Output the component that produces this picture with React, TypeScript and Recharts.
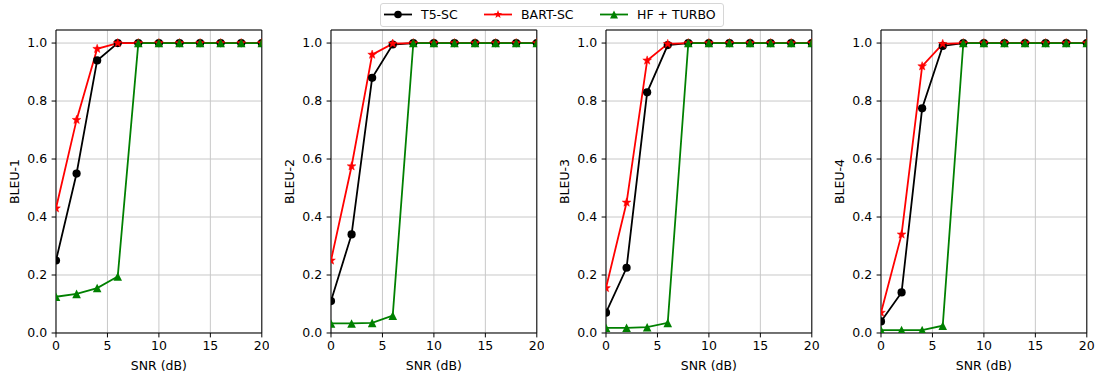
import { CartesianGrid, Line, LineChart, ReferenceArea, XAxis, YAxis } from "recharts";

const snr = [0, 2, 4, 6, 8, 10, 12, 14, 16, 18, 20];
const xTicks = [0, 5, 10, 15, 20];
const yTicks = [0, 0.2, 0.4, 0.6, 0.8, 1.0];

const metrics = ["BLEU-1", "BLEU-2", "BLEU-3", "BLEU-4"];

const t5Bleu1 = [0.25, 0.55, 0.94, 1.0, 1.0, 1.0, 1.0, 1.0, 1.0, 1.0, 1.0];
const bartBleu1 = [0.43, 0.735, 0.98, 1.0, 1.0, 1.0, 1.0, 1.0, 1.0, 1.0, 1.0];
const hfBleu1 = [0.125, 0.135, 0.155, 0.195, 1.0, 1.0, 1.0, 1.0, 1.0, 1.0, 1.0];

const t5Bleu2 = [0.11, 0.34, 0.88, 0.995, 1.0, 1.0, 1.0, 1.0, 1.0, 1.0, 1.0];
const bartBleu2 = [0.25, 0.575, 0.96, 0.998, 1.0, 1.0, 1.0, 1.0, 1.0, 1.0, 1.0];
const hfBleu2 = [0.033, 0.033, 0.035, 0.06, 1.0, 1.0, 1.0, 1.0, 1.0, 1.0, 1.0];

const t5Bleu3 = [0.07, 0.225, 0.83, 0.993, 1.0, 1.0, 1.0, 1.0, 1.0, 1.0, 1.0];
const bartBleu3 = [0.155, 0.45, 0.94, 0.997, 1.0, 1.0, 1.0, 1.0, 1.0, 1.0, 1.0];
const hfBleu3 = [0.018, 0.018, 0.02, 0.035, 1.0, 1.0, 1.0, 1.0, 1.0, 1.0, 1.0];

const t5Bleu4 = [0.04, 0.14, 0.775, 0.99, 1.0, 1.0, 1.0, 1.0, 1.0, 1.0, 1.0];
const bartBleu4 = [0.07, 0.34, 0.92, 0.997, 1.0, 1.0, 1.0, 1.0, 1.0, 1.0, 1.0];
const hfBleu4 = [0.01, 0.01, 0.01, 0.025, 1.0, 1.0, 1.0, 1.0, 1.0, 1.0, 1.0];

const panels = [
  { t5: t5Bleu1, bart: bartBleu1, hf: hfBleu1 },
  { t5: t5Bleu2, bart: bartBleu2, hf: hfBleu2 },
  { t5: t5Bleu3, bart: bartBleu3, hf: hfBleu3 },
  { t5: t5Bleu4, bart: bartBleu4, hf: hfBleu4 },
];

const FONT = "'DejaVu Sans', sans-serif";
const FS = 12.5;
const AXIS_W = 55;
const PLOT_W = 205.8;

function starPoints(cx, cy, R, r) {
  const pts = [];
  for (let i = 0; i < 10; i++) {
    const a = -Math.PI / 2 + (i * Math.PI) / 5;
    const rad = i % 2 === 0 ? R : r;
    pts.push(`${cx + rad * Math.cos(a)},${cy + rad * Math.sin(a)}`);
  }
  return pts.join(" ");
}

function CircleDot(props) {
  const { cx, cy, index } = props;
  if (cx == null || cy == null) return null;
  return <circle key={`c-${index}`} cx={cx} cy={cy} r={4.1} fill="#000" />;
}

function StarDot(props) {
  const { cx, cy, index } = props;
  if (cx == null || cy == null) return null;
  return <polygon key={`s-${index}`} points={starPoints(cx, cy, 4.6, 1.9)} fill="red" stroke="red" strokeWidth={0.5} />;
}

function TriangleDot(props) {
  const { cx, cy, index } = props;
  if (cx == null || cy == null) return null;
  const s = 4.3;
  return (
    <polygon
      key={`t-${index}`}
      points={`${cx},${cy - s} ${cx - s},${cy + s} ${cx + s},${cy + s}`}
      fill="green"
    />
  );
}

function Panel({ idx }) {
  const p = panels[idx];
  const data = snr.map((x, i) => ({ snr: x, t5: p.t5[i], bart: p.bart[i], hf: p.hf[i] }));
  const plotLeft = 55.5 + idx * 275.2;
  return (
    <div style={{ position: "absolute", left: plotLeft - AXIS_W, top: 0 }}>
      <LineChart
        width={AXIS_W + PLOT_W + 8}
        height={376}
        data={data}
        margin={{ top: 30, right: 8, left: 0, bottom: 0 }}
      >
        <CartesianGrid stroke="#c8c8c8" strokeWidth={1} />
        <XAxis
          dataKey="snr"
          type="number"
          domain={[0, 20]}
          ticks={xTicks}
          allowDataOverflow
          height={43}
          axisLine={false}
          tickSize={4.4}
          tickMargin={3.5}
          tickLine={{ stroke: "#000", strokeWidth: 1 }}
          tick={{ fill: "#000", fontSize: FS, fontFamily: FONT }}
          label={{ value: "SNR (dB)", position: "insideBottom", offset: 5.5, fill: "#000", fontSize: FS, fontFamily: FONT }}
        />
        <YAxis
          type="number"
          domain={[0, 1.045]}
          ticks={yTicks}
          allowDataOverflow
          width={AXIS_W}
          axisLine={false}
          tickSize={4.4}
          tickMargin={4.4}
          tickLine={{ stroke: "#000", strokeWidth: 1 }}
          tickFormatter={(v) => v.toFixed(1)}
          tick={{ fill: "#000", fontSize: FS, fontFamily: FONT }}
          label={{
            value: metrics[idx],
            angle: -90,
            position: "insideLeft",
            offset: 14,
            fill: "#000",
            fontSize: FS,
            fontFamily: FONT,
            style: { textAnchor: "middle" },
          }}
        />
        <ReferenceArea x1={0} x2={20} y1={0} y2={1.045} fill="none" stroke="#000" strokeWidth={1} ifOverflow="visible" />
        <Line dataKey="t5" stroke="#000" strokeWidth={1.8} dot={CircleDot} activeDot={false} isAnimationActive={false} />
        <Line dataKey="bart" stroke="red" strokeWidth={1.8} dot={StarDot} activeDot={false} isAnimationActive={false} />
        <Line dataKey="hf" stroke="green" strokeWidth={1.8} dot={TriangleDot} activeDot={false} isAnimationActive={false} />
      </LineChart>
    </div>
  );
}

function LegendBox() {
  const items = [
    { name: "T5-SC", color: "#000", line: 384, text: 421, kind: "circle" },
    { name: "BART-SC", color: "red", line: 484, text: 521, kind: "star" },
    { name: "HF + TURBO", color: "green", line: 600, text: 637, kind: "tri" },
  ];
  return (
    <div
      style={{
        position: "absolute",
        left: 380,
        top: 3,
        width: 342,
        height: 22,
        border: "1px solid #d6d6d6",
        borderRadius: 3,
        background: "#fff",
      }}
    >
      {items.map((it) => (
        <div key={it.name}>
          <svg style={{ position: "absolute", left: it.line - 381, top: 0 }} width={28} height={22}>
            <line x1={0} y1={10.5} x2={28} y2={10.5} stroke={it.color} strokeWidth={1.8} />
            {it.kind === "circle" && <circle cx={14} cy={10.5} r={3.8} fill={it.color} />}
            {it.kind === "star" && <polygon points={starPoints(14, 10.5, 4.4, 1.8)} fill={it.color} />}
            {it.kind === "tri" && <polygon points="14,6.5 10,14.5 18,14.5" fill={it.color} />}
          </svg>
          <span
            style={{
              position: "absolute",
              left: it.text - 381,
              top: 3,
              fontSize: FS,
              lineHeight: "15px",
              fontFamily: FONT,
              color: "#000",
              whiteSpace: "nowrap",
            }}
          >
            {it.name}
          </span>
        </div>
      ))}
    </div>
  );
}

export default function App() {
  return (
    <div style={{ position: "absolute", left: 0, top: 0, width: 1095, height: 376, background: "#fff", fontFamily: FONT }}>
      {panels.map((_, i) => (
        <Panel key={i} idx={i} />
      ))}
      <LegendBox />
    </div>
  );
}
